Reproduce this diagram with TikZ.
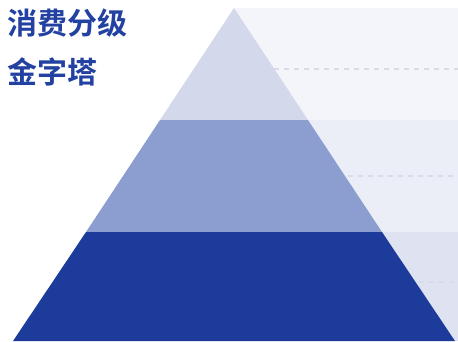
\documentclass[tikz,border=0pt]{standalone}
\usepackage{fontspec}
\newfontfamily\cjk{Noto Sans CJK SC}[BoldFont={Noto Sans CJK SC Bold}]
\definecolor{dark}{HTML}{1C3B9B}
\definecolor{mid}{HTML}{8C9ED0}
\definecolor{light}{HTML}{D3D8EB}
\definecolor{panelA}{HTML}{F4F5FA}
\definecolor{panelB}{HTML}{ECEEF7}
\definecolor{panelC}{HTML}{DFE3F1}
\definecolor{dashc}{HTML}{D8DCE8}
\definecolor{titlec}{HTML}{2341A1}
\tikzset{
  guide/.style={draw=dashc, line width=1.3pt, dash pattern=on 5pt off 5pt},
  title/.style={anchor=north west, inner sep=0pt, text=titlec, font=\cjk\bfseries\fontsize{30pt}{32pt}\selectfont}
}
\begin{document}
\begin{tikzpicture}[x=1pt,y=-1pt]
\useasboundingbox (0,0) rectangle (458,341);
% panels
\fill[panelA] (234,8) rectangle (458,120);
\fill[panelB] (234,120) rectangle (458,232);
\fill[panelC] (234,232) rectangle (458,341);
% pyramid corners
\coordinate (apex) at (234,8);
\coordinate (l1) at (160,120);
\coordinate (r1) at (308,120);
\coordinate (l2) at (86,232);
\coordinate (r2) at (382,232);
\coordinate (l3) at (13,341);
\coordinate (r3) at (455,341);
% guide lines
\coordinate (g1a) at (274,69); \coordinate (g1b) at (458,69);
\coordinate (g2a) at (348,176); \coordinate (g2b) at (458,176);
\coordinate (g3a) at (419,282); \coordinate (g3b) at (458,282);
\draw[guide] (g1a) -- (g1b);
\draw[guide] (g2a) -- (g2b);
\draw[guide] (g3a) -- (g3b);
% layers
\fill[light] (apex) -- (r1) -- (l1) -- cycle;
\fill[mid] (l1) -- (r1) -- (r2) -- (l2) -- cycle;
\fill[dark] (l2) -- (r2) -- (r3) -- (l3) -- cycle;
% title
\node[title] (t1) at (7,9) {消费分级};
\node[title] (t2) at (7,57) {金字塔};
\end{tikzpicture}
\end{document}
